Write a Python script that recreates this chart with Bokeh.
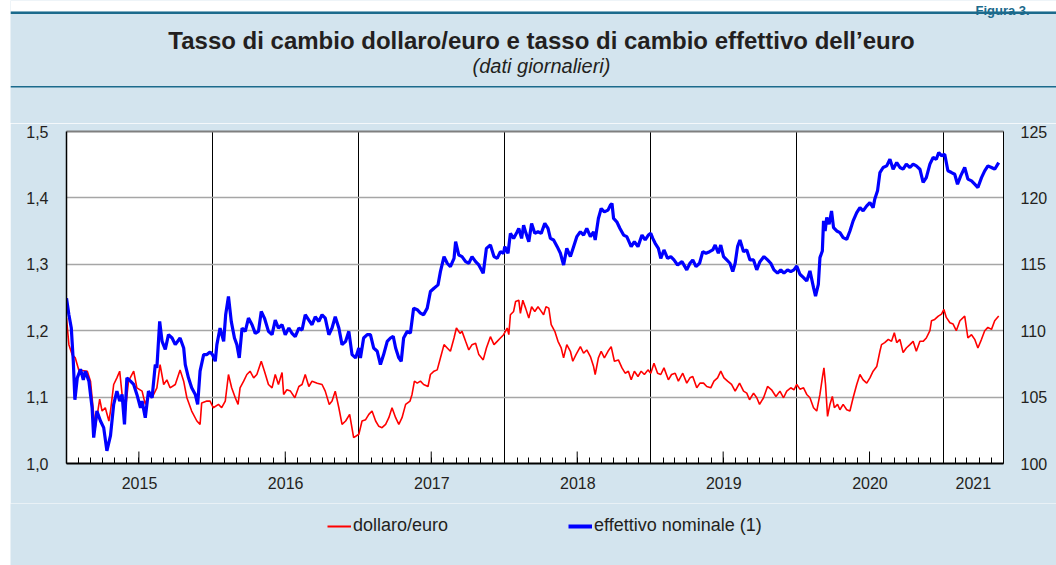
import pandas as pd
from bokeh.plotting import figure
from bokeh.layouts import column
from bokeh.models import (Range1d, LinearAxis, FixedTicker, CustomJSTickFormatter,
                          DatetimeTickFormatter, Label, BoxAnnotation, Legend, LegendItem,
                          ColumnDataSource)
from bokeh.embed import file_html
from bokeh.resources import INLINE

# ---------------- data ----------------
# days since 2015-01-01
usd_day = [0, 6, 14, 22, 31, 39, 52, 60, 68, 72, 83, 89, 97, 106, 110, 118, 126, 133, 139, 147,
           155, 168, 176, 189, 197, 205, 214, 226, 234, 243, 251, 259, 272, 284, 293, 301, 313, 326, 334, 338,
           351, 359, 367, 380, 388, 397, 405, 413, 422, 429, 434, 443, 451, 459, 468, 476, 487, 495, 505, 514,
           522, 530, 539, 543, 551, 560, 571, 581, 589, 597, 606, 614, 627, 639, 647, 657, 664, 672, 681, 689,
           698, 708, 718, 731, 739, 748, 756, 764, 773, 781, 789, 798, 806, 814, 823, 831, 839, 848, 859, 864,
           870, 877, 885, 893, 904, 910, 919, 927, 935, 944, 952, 960, 969, 975, 984, 989, 998, 1006, 1014, 1023,
           1031, 1042, 1050, 1060, 1069, 1077, 1085, 1093, 1102, 1106, 1110, 1118, 1123, 1131, 1135, 1141, 1148, 1156, 1163, 1171,
           1179, 1185, 1193, 1199, 1206, 1212, 1221, 1229, 1237, 1243, 1251, 1260, 1266, 1274, 1285, 1293, 1301, 1310, 1318, 1322,
           1330, 1337, 1345, 1354, 1362, 1370, 1380, 1389, 1397, 1405, 1412, 1420, 1429, 1437, 1445, 1454, 1461, 1469, 1478, 1486,
           1494, 1505, 1513, 1522, 1530, 1541, 1551, 1559, 1566, 1576, 1584, 1593, 1601, 1611, 1619, 1628, 1636, 1644, 1653, 1663,
           1672, 1683, 1693, 1701, 1708, 1718, 1726, 1733, 1743, 1753, 1763, 1774, 1784, 1793, 1801, 1811, 1819, 1826, 1834, 1843,
           1851, 1859, 1868, 1876, 1884, 1890, 1894, 1898, 1903, 1909, 1915, 1920, 1928, 1934, 1942, 1951, 1959, 1967, 1976, 1984,
           1992, 2001, 2009, 2017, 2026, 2034, 2038, 2046, 2055, 2063, 2070, 2076, 2084, 2092, 2100, 2109, 2117, 2125, 2134, 2142,
           2150, 2159, 2163, 2171, 2180, 2188, 2194, 2200, 2209, 2217, 2225, 2234, 2246, 2254, 2263, 2271, 2279, 2288, 2296, 2304,
           2313, 2321, 2331]
usd_val = [1.219, 1.179, 1.164, 1.159, 1.140, 1.140, 1.139, 1.124, 1.074, 1.054, 1.097, 1.079, 1.084, 1.064, 1.079, 1.119, 1.129, 1.139, 1.104, 1.079,
           1.124, 1.139, 1.114, 1.109, 1.089, 1.104, 1.099, 1.114, 1.149, 1.119, 1.126, 1.114, 1.119, 1.141, 1.124, 1.099, 1.079, 1.064, 1.059, 1.091,
           1.094, 1.094, 1.084, 1.089, 1.084, 1.094, 1.134, 1.114, 1.099, 1.089, 1.114, 1.124, 1.134, 1.139, 1.129, 1.134, 1.154, 1.139, 1.119, 1.114,
           1.134, 1.119, 1.137, 1.104, 1.111, 1.109, 1.099, 1.116, 1.119, 1.134, 1.116, 1.124, 1.121, 1.119, 1.109, 1.089, 1.094, 1.109, 1.084, 1.059,
           1.064, 1.074, 1.039, 1.044, 1.064, 1.066, 1.074, 1.079, 1.064, 1.056, 1.054, 1.059, 1.069, 1.084, 1.069, 1.059, 1.069, 1.089, 1.094, 1.104,
           1.124, 1.121, 1.124, 1.119, 1.116, 1.134, 1.139, 1.141, 1.159, 1.179, 1.174, 1.169, 1.189, 1.204, 1.196, 1.199, 1.184, 1.171, 1.179, 1.181,
           1.164, 1.156, 1.174, 1.191, 1.179, 1.184, 1.189, 1.194, 1.204, 1.194, 1.224, 1.229, 1.244, 1.246, 1.226, 1.246, 1.234, 1.219, 1.236, 1.229,
           1.236, 1.231, 1.224, 1.236, 1.234, 1.209, 1.199, 1.184, 1.174, 1.159, 1.179, 1.169, 1.154, 1.164, 1.176, 1.166, 1.171, 1.161, 1.146, 1.134,
           1.159, 1.169, 1.159, 1.169, 1.176, 1.154, 1.156, 1.144, 1.136, 1.139, 1.126, 1.139, 1.131, 1.139, 1.134, 1.141, 1.136, 1.151, 1.136, 1.134,
           1.144, 1.126, 1.134, 1.136, 1.124, 1.136, 1.121, 1.129, 1.131, 1.114, 1.121, 1.121, 1.116, 1.114, 1.124, 1.129, 1.139, 1.129, 1.124, 1.119,
           1.109, 1.121, 1.109, 1.106, 1.096, 1.106, 1.099, 1.089, 1.099, 1.116, 1.111, 1.101, 1.109, 1.099, 1.109, 1.114, 1.111, 1.119, 1.112, 1.114,
           1.104, 1.099, 1.084, 1.079, 1.104, 1.129, 1.144, 1.119, 1.071, 1.089, 1.101, 1.084, 1.089, 1.081, 1.089, 1.081, 1.079, 1.099, 1.119, 1.134,
           1.126, 1.121, 1.129, 1.139, 1.146, 1.169, 1.179, 1.182, 1.187, 1.184, 1.197, 1.182, 1.187, 1.167, 1.174, 1.179, 1.184, 1.169, 1.184, 1.184,
           1.189, 1.200, 1.215, 1.217, 1.222, 1.225, 1.232, 1.220, 1.212, 1.210, 1.200, 1.215, 1.222, 1.189, 1.194, 1.187, 1.174, 1.187, 1.200, 1.205,
           1.202, 1.215, 1.222]

neer_day = [0, 6, 12, 17, 21, 27, 35, 42, 47, 56, 64, 68, 76, 85, 93, 101, 110, 118, 126, 133,
            139, 145, 151, 160, 168, 176, 185, 189, 197, 205, 214, 222, 226, 233, 239, 247, 255, 264, 272, 284,
            293, 297, 305, 313, 322, 328, 334, 343, 351, 359, 365, 372, 376, 384, 393, 398, 405, 412, 420, 426,
            432, 439, 447, 455, 464, 472, 480, 487, 495, 505, 514, 522, 530, 539, 547, 556, 564, 572, 581, 589,
            597, 606, 614, 622, 631, 639, 647, 656, 664, 672, 681, 689, 698, 706, 714, 723, 731, 735, 743, 752,
            760, 768, 777, 785, 793, 802, 810, 817, 823, 831, 837, 843, 852, 860, 868, 877, 885, 893, 902, 910,
            919, 929, 935, 944, 952, 960, 969, 973, 981, 989, 998, 1006, 1014, 1023, 1031, 1042, 1050, 1060, 1069, 1077,
            1085, 1093, 1096, 1104, 1110, 1118, 1127, 1131, 1138, 1143, 1149, 1156, 1163, 1171, 1179, 1187, 1196, 1204, 1210, 1218,
            1227, 1235, 1243, 1251, 1260, 1268, 1276, 1285, 1293, 1301, 1310, 1318, 1322, 1330, 1337, 1345, 1354, 1360, 1364, 1368,
            1376, 1384, 1393, 1401, 1412, 1420, 1429, 1439, 1447, 1455, 1461, 1466, 1472, 1480, 1486, 1494, 1503, 1511, 1519, 1528,
            1539, 1551, 1559, 1566, 1574, 1583, 1591, 1599, 1608, 1616, 1622, 1630, 1636, 1643, 1651, 1659, 1666, 1672, 1678, 1684,
            1693, 1701, 1709, 1718, 1726, 1734, 1744, 1753, 1761, 1769, 1778, 1786, 1794, 1803, 1811, 1819, 1826, 1834, 1843, 1851,
            1859, 1868, 1873, 1880, 1884, 1890, 1893, 1897, 1901, 1907, 1913, 1918, 1926, 1934, 1942, 1951, 1959, 1967, 1976, 1984,
            1992, 2001, 2009, 2017, 2021, 2028, 2034, 2042, 2051, 2059, 2067, 2076, 2084, 2092, 2100, 2109, 2117, 2125, 2134, 2142,
            2150, 2159, 2167, 2175, 2181, 2188, 2196, 2204, 2213, 2221, 2228, 2236, 2246, 2254, 2263, 2271, 2279, 2288, 2296, 2304,
            2313, 2321, 2331]
neer_val = [112.45, 111.2, 110.2, 107.7, 104.8, 106.45, 107.1, 106.3, 106.95, 106.2, 104.2, 101.95, 103.95, 103.2, 102.7, 100.95, 102.1, 104.45, 105.45, 104.7,
            105.2, 102.95, 106.45, 106.2, 105.95, 105.2, 104.2, 104.7, 103.45, 105.45, 104.95, 107.45, 107.2, 110.7, 109.2, 108.6, 109.7, 109.45, 108.95, 109.45,
            108.7, 107.45, 106.45, 105.7, 105.2, 104.45, 106.95, 108.2, 108.2, 108.4, 108.2, 107.7, 108.95, 110.2, 109.2, 111.2, 112.58, 110.7, 109.45, 108.95,
            107.95, 110.2, 109.95, 110.95, 110.45, 109.8, 109.95, 111.45, 110.95, 109.95, 109.7, 110.8, 110.2, 110.45, 109.7, 110.2, 109.8, 109.55, 110.2, 110.05,
            111.2, 110.8, 110.45, 111.05, 110.7, 111.2, 110.95, 109.7, 110.2, 111.05, 110.2, 108.95, 109.2, 109.95, 108.2, 107.95, 108.7, 107.95, 109.45, 109.7,
            109.7, 108.7, 108.45, 107.45, 108.2, 109.2, 109.45, 109.58, 108.7, 107.95, 107.7, 109.45, 109.95, 109.83, 111.7, 111.58, 111.33, 111.2, 111.7, 112.95,
            113.2, 113.45, 114.45, 115.58, 115.08, 114.83, 115.45, 116.7, 115.7, 115.58, 115.2, 115.08, 115.58, 115.2, 114.95, 114.33, 116.2, 116.45, 115.58, 115.45,
            115.95, 115.83, 116.33, 115.83, 117.33, 116.95, 117.45, 117.7, 116.95, 117.95, 117.33, 116.7, 118.08, 117.33, 117.45, 117.33, 118.08, 117.7, 116.95, 116.83,
            116.33, 115.83, 114.95, 116.2, 115.58, 116.33, 117.08, 117.45, 117.2, 117.7, 117.08, 117.45, 116.83, 118.45, 119.2, 118.95, 119.08, 119.45, 119.58, 118.45,
            118.2, 117.7, 117.2, 117.08, 116.33, 116.7, 116.33, 117.2, 116.83, 117.2, 117.33, 116.95, 116.58, 116.2, 115.45, 116.08, 115.45, 115.58, 115.33, 114.95,
            115.2, 114.58, 115.08, 115.33, 114.83, 115.08, 115.95, 115.83, 115.95, 116.08, 116.45, 115.83, 116.45, 115.58, 115.33, 115.08, 114.45, 115.08, 116.33, 116.83,
            115.95, 116.08, 115.33, 115.33, 114.58, 115.2, 115.58, 115.33, 115.08, 114.58, 114.33, 114.58, 114.33, 114.58, 114.45, 114.58, 114.87, 114.25, 114.0, 113.74,
            114.5, 113.24, 112.61, 113.49, 115.5, 116.0, 118.27, 117.51, 118.52, 118.02, 119.02, 117.76, 117.51, 117.39, 117.01, 116.88, 117.51, 118.27, 118.89, 119.27,
            119.02, 119.4, 119.65, 119.27, 119.9, 120.53, 121.91, 122.29, 122.41, 122.91, 122.16, 122.66, 122.29, 122.16, 122.54, 122.29, 122.54, 122.41, 122.16, 121.16,
            121.53, 122.54, 123.04, 122.91, 123.42, 123.17, 123.29, 122.04, 121.91, 121.78, 121.03, 121.66, 122.29, 121.41, 121.28, 121.03, 120.78, 121.53, 122.04, 122.41,
            122.29, 122.16, 122.66]

left_ticks = [1.0, 1.1, 1.2, 1.3, 1.4, 1.5]
right_ticks = [100, 105, 110, 115, 120, 125]
years = [2015, 2016, 2017, 2018, 2019, 2020, 2021]
series_names = ["dollaro/euro", "effettivo nominale (1)"]
title_text = "Tasso di cambio dollaro/euro e tasso di cambio effettivo dell\u2019euro"
subtitle_text = "(dati giornalieri)"
figure_tag = "Figura 3."

# ---------------- styling ----------------
PANEL = "#d3e4ee"
TEAL = "#1b6a8c"
TXT = "#231f20"
FONT = "Liberation Sans"
RED = "#ff0000"
BLUE = "#0000ff"
RED_W, BLUE_W = 1.6, 3.2

START = pd.Timestamp("2015-01-01")
END = pd.Timestamp("2021-06-01")


def ms(ts):
    return pd.Timestamp(ts).value / 1e6


PAGE_W, PAGE_H = 1056, 565
LEFT_GAP = 10          # white strip on the left of the page
HEAD_H = 123           # header band (title area)
MAIN_H = 380           # chart (frame 131..463)
FOOT_H = PAGE_H - HEAD_H - MAIN_H
FIG_W = PAGE_W - LEFT_GAP
FRAME_TOP, FRAME_BOTTOM, FRAME_LEFT, FRAME_RIGHT = 131, 463, 66, 1003


def deco_figure(h, y_top):
    f = figure(width=FIG_W, height=h, x_range=Range1d(LEFT_GAP, PAGE_W),
               y_range=Range1d(y_top + h, y_top), output_backend="svg", toolbar_location=None,
               x_axis_location=None, y_axis_location=None, min_border=0,
               min_border_left=0, min_border_right=0, min_border_top=0, min_border_bottom=0,
               background_fill_color=PANEL, border_fill_color=PANEL, outline_line_color=None,
               margin=(0, 0, 0, LEFT_GAP), frame_align=False)
    f.xgrid.visible = False
    f.ygrid.visible = False
    return f


# ---------------- header ----------------
head = deco_figure(HEAD_H, 0)
head.add_layout(BoxAnnotation(left=LEFT_GAP, right=PAGE_W, top=0, bottom=11,
                              fill_color="white", fill_alpha=1, line_color=None))
head.add_layout(BoxAnnotation(left=LEFT_GAP, right=PAGE_W, top=11, bottom=13.5,
                              fill_color=TEAL, fill_alpha=1, line_color=None))
head.add_layout(BoxAnnotation(left=LEFT_GAP, right=PAGE_W, top=85.5, bottom=87,
                              fill_color=TEAL, fill_alpha=1, line_color=None))
head.add_layout(Label(x=541, y=40, text=title_text, text_align="center", text_baseline="middle",
                      text_font=FONT, text_font_size="24px", text_font_style="bold", text_color=TXT))
head.add_layout(Label(x=541, y=65, text=subtitle_text, text_align="center", text_baseline="middle",
                      text_font=FONT, text_font_size="20px", text_font_style="italic", text_color=TXT))
head.add_layout(Label(x=975, y=10, text=figure_tag, text_align="left", text_baseline="alphabetic",
                      text_font=FONT, text_font_size="13px", text_font_style="bold", text_color=TEAL))

# ---------------- main chart ----------------
usd = ColumnDataSource(dict(x=START + pd.to_timedelta(usd_day, unit="D"), y=usd_val))
neer = ColumnDataSource(dict(x=START + pd.to_timedelta(neer_day, unit="D"), y=neer_val))

p = figure(width=FIG_W, height=MAIN_H, x_axis_type="datetime",
           x_range=Range1d(ms(START), ms(END)), y_range=Range1d(left_ticks[0], left_ticks[-1]),
           output_backend="svg", toolbar_location=None,
           min_border_left=FRAME_LEFT - LEFT_GAP, min_border_right=PAGE_W - FRAME_RIGHT,
           min_border_top=FRAME_TOP - HEAD_H, min_border_bottom=HEAD_H + MAIN_H - FRAME_BOTTOM,
           background_fill_color="white", border_fill_color=PANEL, outline_line_color=None,
           margin=(0, 0, 0, LEFT_GAP), frame_align=False)
p.extra_y_ranges = {"neer": Range1d(right_ticks[0], right_ticks[-1])}

# grids
p.ygrid.ticker = FixedTicker(ticks=left_ticks[1:-1])
p.ygrid.grid_line_color = "#a6a6a6"
p.ygrid.grid_line_width = 1.5
p.xgrid.ticker = FixedTicker(ticks=[ms(f"{y}-01-01") for y in years[1:]])
p.xgrid.grid_line_color = "black"
p.xgrid.grid_line_width = 1

# bottom axis: month ticks, year labels centred on the visible part of each year
months = pd.date_range(START, END, freq="MS")
year_mid = [(ms(max(START, pd.Timestamp(f"{y}-01-01"))) + ms(min(END, pd.Timestamp(f"{y + 1}-01-01")))) / 2
            for y in years]
fmt = "%Y"
xa = p.xaxis[0]
xa.ticker = FixedTicker(ticks=year_mid, minor_ticks=[ms(m) for m in months])
xa.formatter = DatetimeTickFormatter(days=fmt, months=fmt, years=fmt)
xa.major_tick_in = 0
xa.major_tick_out = 0
xa.minor_tick_in = 6
xa.minor_tick_out = 0
xa.minor_tick_line_color = "black"
xa.axis_line_color = "black"
xa.axis_line_width = 2
xa.major_label_standoff = 13
xa.major_label_text_font = FONT
xa.major_label_text_font_size = "16px"
xa.major_label_text_color = TXT

# taller mid-year tick marks (July of each full year)
mid_year = [ms(f"{y}-07-01") for y in years if pd.Timestamp(f"{y}-07-01") < END]
tall = 12 * (left_ticks[-1] - left_ticks[0]) / (FRAME_BOTTOM - FRAME_TOP)
p.segment(x0=mid_year, y0=[left_ticks[0]] * len(mid_year), x1=mid_year,
          y1=[left_ticks[0] + tall] * len(mid_year), line_color="black", line_width=1)

# left axis
ya = p.yaxis[0]
ya.ticker = FixedTicker(ticks=left_ticks)
ya.formatter = CustomJSTickFormatter(code="return tick.toFixed(1).replace('.', ',');")
ya.major_tick_in = 0
ya.major_tick_out = 0
ya.minor_tick_in = 0
ya.minor_tick_out = 0
ya.axis_line_color = "black"
ya.axis_line_width = 1.5
ya.major_label_standoff = 18
ya.major_label_text_font = FONT
ya.major_label_text_font_size = "16px"
ya.major_label_text_color = TXT

# right axis
ra = LinearAxis(y_range_name="neer", ticker=FixedTicker(ticks=right_ticks),
                major_tick_in=0, major_tick_out=0, minor_tick_in=0, minor_tick_out=0,
                axis_line_color="black", axis_line_width=1,
                major_label_standoff=17, major_label_text_font=FONT,
                major_label_text_font_size="16px", major_label_text_color=TXT)
p.add_layout(ra, "right")

# top frame edge
ta = LinearAxis(ticker=FixedTicker(ticks=[]), axis_line_color="#7f7f7f", axis_line_width=2,
                major_tick_line_color=None, minor_tick_line_color=None,
                major_label_text_font_size="0px")
p.add_layout(ta, "above")

# series
r_usd = p.line("x", "y", source=usd, line_color=RED, line_width=RED_W)
r_neer = p.line("x", "y", source=neer, line_color=BLUE, line_width=BLUE_W, y_range_name="neer")

# ---------------- footer with legend ----------------
foot = deco_figure(FOOT_H, HEAD_H + MAIN_H)
corner = dict(x=[LEFT_GAP, LEFT_GAP], y=[PAGE_H, PAGE_H])
k_usd = foot.line(x=corner["x"], y=corner["y"], line_color=RED, line_width=RED_W + 0.4)
k_neer = foot.line(x=corner["x"], y=corner["y"], line_color=BLUE, line_width=BLUE_W + 0.8)
for rend, name, rx in [(k_usd, series_names[0], 327), (k_neer, series_names[1], 568)]:
    lg = Legend(items=[LegendItem(label=name, renderers=[rend])],
                location=(rx - LEFT_GAP, PAGE_H - 536),
                orientation="horizontal", padding=0, margin=0, border_line_color=None,
                background_fill_alpha=0, glyph_width=24, glyph_height=18, label_height=18,
                label_standoff=2, label_text_font=FONT, label_text_font_size="18px",
                label_text_color=TXT)
    foot.add_layout(lg)

layout = column(head, p, foot, spacing=0)
open("out.html", "w").write(file_html(layout, INLINE))
